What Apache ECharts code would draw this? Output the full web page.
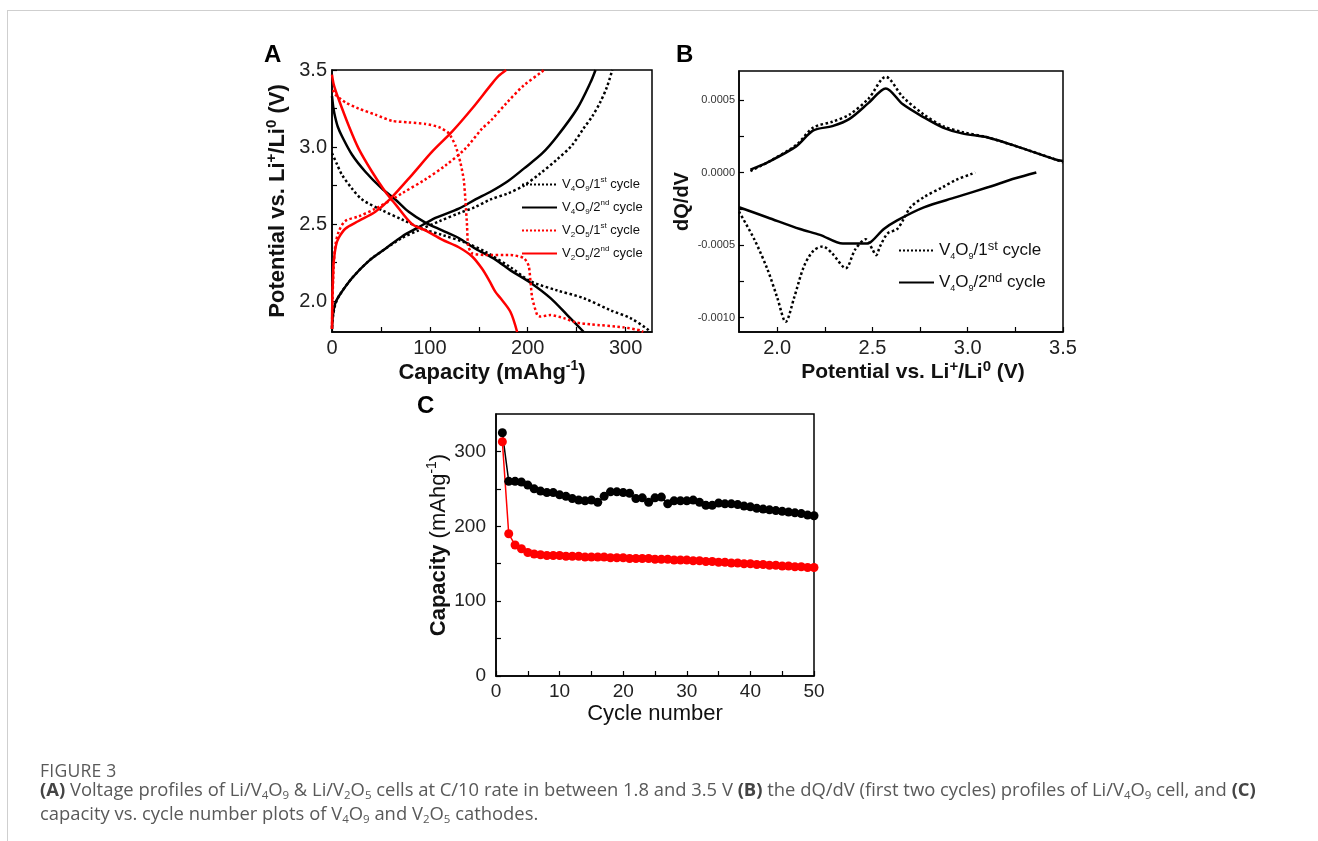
<!DOCTYPE html>
<html><head><meta charset="utf-8">
<script src="https://cdn.jsdelivr.net/npm/echarts@6/dist/echarts.min.js"></script>
<style>
html,body{margin:0;padding:0;background:#fff;width:1318px;height:841px;overflow:hidden;}
#frame{position:absolute;left:7px;top:10px;right:0;bottom:0;border-left:1px solid #cfcfcf;border-top:1px solid #cfcfcf;}
#chart{position:absolute;left:0;top:0;width:1318px;height:841px;}
.cap{position:absolute;left:40px;font-family:'Open Sans';color:#595959;font-size:18.4px;white-space:nowrap;}
#figt{top:759px;line-height:22px;font-size:17.6px;letter-spacing:0.2px;}
#capt{top:777px;line-height:23.5px;}
.cap sub{font-size:11.5px;vertical-align:-3px;line-height:0;}
.cap b{font-weight:700;color:#444;}
</style></head>
<body>
<div id="frame"></div>
<div id="chart"></div>
<div class="cap" id="figt">FIGURE 3</div>
<div class="cap" id="capt"><b>(A)</b> Voltage profiles of Li/V<sub>4</sub>O<sub>9</sub> &amp; Li/V<sub>2</sub>O<sub>5</sub> cells at C/10 rate in between 1.8 and 3.5 V <b>(B)</b> the dQ/dV (first two cycles) profiles of Li/V<sub>4</sub>O<sub>9</sub> cell, and <b>(C)</b><br>capacity vs. cycle number plots of V<sub>4</sub>O<sub>9</sub> and V<sub>2</sub>O<sub>5</sub> cathodes.</div>
<script>
// ---------- Panel A: voltage profiles [capacity mAh/g, potential V] ----------
const aV4O9_1st_dis = [[0,2.96],[5,2.89],[10.2,2.82],[20.5,2.73],[30.7,2.66],[51.1,2.59],[71.6,2.53],[92,2.47],[112.5,2.43],[136.3,2.38],[156.8,2.32],[182.4,2.22],[202.8,2.13],[230,2.07],[257,2.02],[285,1.94],[305,1.89],[322,1.82],[325,1.80]];
const aV4O9_1st_chg = [[0,1.83],[1,1.9],[3,1.97],[6.8,2.03],[20.5,2.15],[37.4,2.26],[54.5,2.34],[71.6,2.41],[88.6,2.46],[110,2.52],[129.5,2.57],[146,2.61],[162,2.66],[180,2.70],[196,2.75],[213,2.83],[230,2.92],[245,3.01],[257,3.12],[266,3.20],[274,3.29],[281,3.39],[286.4,3.50]];
const aV4O9_2nd_dis = [[0,3.33],[1.5,3.25],[3.4,3.19],[6,3.13],[10.2,3.07],[20.5,2.95],[34.1,2.84],[51.1,2.73],[64.7,2.66],[78.4,2.58],[95.4,2.51],[112.5,2.46],[129.5,2.41],[146.6,2.34],[167,2.27],[182.4,2.20],[202.8,2.12],[223.3,2.02],[240.4,1.91],[257.3,1.80]];
const aV4O9_2nd_chg = [[0,1.82],[0.8,1.9],[3,1.98],[6.8,2.03],[20.5,2.15],[37.4,2.26],[54.5,2.34],[71.6,2.42],[88.6,2.48],[105.7,2.54],[129.5,2.60],[146.6,2.66],[162,2.71],[180,2.78],[196,2.86],[215,2.96],[230.1,3.07],[250.6,3.25],[264.2,3.42],[269.3,3.50]];
const aV2O5_1st_dis = [[1,3.37],[3.4,3.34],[13.6,3.29],[27.2,3.25],[44.3,3.21],[61.4,3.17],[78.4,3.16],[95.4,3.15],[109,3.13],[119.3,3.09],[126.1,3.01],[131.2,2.90],[134.6,2.79],[136.3,2.66],[138,2.49],[139.1,2.36],[143.2,2.31],[156.8,2.30],[182.4,2.30],[196,2.28],[201,2.23],[202.8,2.13],[204.6,2.02],[209.7,1.91],[213,1.90],[223.3,1.91],[236.9,1.89],[250.6,1.86],[264,1.85],[298.3,1.83],[315.3,1.81],[318,1.80]];
const aV2O5_1st_chg = [[0,1.82],[0.5,2.0],[1.2,2.15],[1.7,2.23],[3.4,2.36],[6.8,2.45],[13.6,2.52],[27.2,2.55],[44.3,2.60],[61.4,2.66],[71.6,2.70],[95.4,2.79],[115.9,2.88],[136.3,2.99],[153.4,3.12],[162,3.17],[179,3.29],[196,3.40],[214.8,3.49],[216,3.50]];
const aV2O5_2nd_dis = [[0,3.47],[2,3.40],[6.8,3.31],[17,3.14],[27.2,2.99],[40.9,2.84],[54.5,2.71],[64.7,2.63],[81.8,2.50],[95.4,2.46],[112.5,2.40],[129.5,2.35],[143.2,2.29],[153.4,2.21],[161,2.13],[167,2.06],[172.1,2.02],[182.4,1.93],[189.2,1.80]];
const aV2O5_2nd_chg = [[0,1.82],[0.3,2.0],[1,2.15],[1.7,2.25],[4,2.36],[6.8,2.41],[13.6,2.47],[27.2,2.52],[44.3,2.58],[59,2.66],[81.8,2.82],[102.3,2.97],[122.7,3.10],[143.2,3.25],[162,3.40],[170,3.46],[178,3.50]];
const aXLabels = [0,100,200,300];
const aXTicks = [0,50,100,150,200,250,300];
const aYLabels = [2.0,2.5,3.0,3.5];
const aYTicks = [2.0,2.25,2.5,2.75,3.0,3.25,3.5];

// ---------- Panel B: dQ/dV [potential V, dQ/dV] ----------
const bCyc1_chg = [[1.86,0.00001],[1.95,0.00007],[2.10,0.00019],[2.19,0.00031],[2.29,0.00035],[2.38,0.00040],[2.48,0.00051],[2.57,0.00066],[2.66,0.00052],[2.77,0.00040],[2.87,0.00032],[2.97,0.00028],[3.11,0.00024],[3.28,0.00017],[3.46,0.00009],[3.5,0.00007]];
const bCyc2_chg = [[1.86,0.00002],[1.95,0.00007],[2.10,0.00018],[2.19,0.00029],[2.29,0.00032],[2.38,0.00037],[2.48,0.00048],[2.57,0.00058],[2.66,0.00047],[2.77,0.00038],[2.87,0.00031],[2.97,0.00027],[3.11,0.00024],[3.28,0.00017],[3.46,0.00009],[3.5,0.00008]];
const bCyc1_dis = [[1.8,-0.00027],[1.88,-0.00046],[1.95,-0.00067],[2.0,-0.00086],[2.045,-0.00103],[2.09,-0.00086],[2.14,-0.00065],[2.19,-0.00054],[2.24,-0.00051],[2.29,-0.00056],[2.36,-0.00066],[2.41,-0.00053],[2.465,-0.00046],[2.50,-0.00053],[2.52,-0.00057],[2.54,-0.00051],[2.58,-0.00042],[2.63,-0.00039],[2.66,-0.00033],[2.70,-0.00024],[2.77,-0.00017],[2.87,-0.00010],[2.94,-0.00005],[3.02,-0.00001],[3.04,0]];
const bCyc2_dis = [[1.8,-0.00024],[1.95,-0.00031],[2.12,-0.00039],[2.225,-0.00043],[2.345,-0.00049],[2.474,-0.00049],[2.50,-0.00047],[2.56,-0.00039],[2.63,-0.00033],[2.77,-0.00024],[2.94,-0.00017],[3.11,-0.00010],[3.25,-0.00004],[3.36,0]];
const bXLabels = [2.0,2.5,3.0,3.5];
const bXTicks = [2.0,2.25,2.5,2.75,3.0,3.25,3.5];
const bYLabels = [-0.001,-0.0005,0,0.0005];
const bYTicks = [-0.001,-0.00075,-0.0005,-0.00025,0,0.00025,0.0005];

// ---------- Panel C: capacity vs cycle ----------
const cCycles = [1,2,3,4,5,6,7,8,9,10,11,12,13,14,15,16,17,18,19,20,21,22,23,24,25,26,27,28,29,30,31,32,33,34,35,36,37,38,39,40,41,42,43,44,45,46,47,48,49,50];
const cV4O9 = [325,260,260,259,255,250,247,245,245,242,240,237,235,234,235,232,240,246,246,245,244,237,238,232,238,239,230,234,234,234,235,232,228,228,231,230,230,229,227,226,224,223,222,221,220,219,218,217,215,214];
const cV2O5 = [313,190,175,170,165,163,162,161,161,161,160,160,160,159,159,159,159,158,158,158,157,157,157,157,156,156,156,155,155,155,154,154,153,153,152,152,151,151,150,150,149,149,148,148,147,147,146,146,145,145];
const cXLabels = [0,10,20,30,40,50];
const cXTicks = [0,5,10,15,20,25,30,35,40,45,50];
const cYLabels = [0,100,200,300];
const cYTicks = [0,50,100,150,200,250,300];

const F = 'Liberation Sans';
const INK = '#111';
const RED = '#ff0000';

const chart = echarts.init(document.getElementById('chart'), null, {renderer:'canvas'});

function richTitle(size, supSize){
  return {
    b:{fontFamily:F,fontWeight:'bold',fontSize:size,color:INK,lineHeight:size+6},
    n:{fontFamily:F,fontWeight:'normal',fontSize:size,color:INK,lineHeight:size+6},
    sb:{fontFamily:F,fontWeight:'bold',fontSize:supSize,color:INK,lineHeight:supSize,verticalAlign:'top'},
    sn:{fontFamily:F,fontWeight:'normal',fontSize:supSize,color:INK,lineHeight:supSize,verticalAlign:'top'}
  };
}
function legendRich(size, subSize, supSize){
  return {
    m:{fontFamily:F,fontSize:size,color:INK,lineHeight:size+4},
    s:{fontFamily:F,fontSize:subSize,color:INK,lineHeight:subSize,verticalAlign:'bottom'},
    p:{fontFamily:F,fontSize:supSize,color:INK,lineHeight:supSize,verticalAlign:'top'}
  };
}
function valAxis(o){
  const a = {
    type:'value', gridIndex:o.grid, min:o.min, max:o.max,
    axisLine:{show:true,onZero:false,lineStyle:{color:'#000',width:1.5}},
    axisTick:{show:true,inside:true,length:5,customValues:o.ticks,lineStyle:{color:'#000',width:1.2}},
    axisLabel:{customValues:o.labels,fontFamily:F,fontSize:o.fs,color:o.lc||'#222',margin:o.margin,formatter:o.fmt},
    splitLine:{show:false},
    name:o.name, nameLocation:'middle', nameGap:o.gap,
    nameTextStyle:{rich:o.rich,padding:o.pad||0}
  };
  if (o.rot) a.nameRotate = 90;
  return a;
}

const option = {
  animation:false,
  backgroundColor:'transparent',
  grid:[
    {left:332,top:70,width:320,height:262,show:true,borderColor:'#000',borderWidth:1.5,backgroundColor:'transparent'},
    {left:739,top:71,width:324,height:261,show:true,borderColor:'#000',borderWidth:1.5,backgroundColor:'transparent'},
    {left:496,top:414,width:318,height:262,show:true,borderColor:'#000',borderWidth:1.5,backgroundColor:'transparent'}
  ],
  xAxis:[
    valAxis({grid:0,min:0,max:327,ticks:aXTicks,labels:aXLabels,fs:20,margin:6,fmt:v=>String(v),
      name:'{b|Capacity (mAhg}{sb|-1}{b|)}',gap:27,rich:richTitle(22,14)}),
    valAxis({grid:1,min:1.8,max:3.5,ticks:bXTicks,labels:bXLabels,fs:20,margin:6,fmt:v=>v.toFixed(1),
      name:'{b|Potential vs. Li}{sb|+}{b|/Li}{sb|0}{b| (V)}',gap:27,pad:[0,0,0,24],rich:richTitle(21,15)}),
    valAxis({grid:2,min:0,max:50,ticks:cXTicks,labels:cXLabels,fs:19,margin:6,fmt:v=>String(v),
      name:'{n|Cycle number}',gap:24,rich:richTitle(22,14)})
  ],
  yAxis:[
    valAxis({grid:0,min:1.8,max:3.5,ticks:aYTicks,labels:aYLabels,fs:20,margin:5,fmt:v=>v.toFixed(1),
      name:'{b|Potential vs. Li}{sb|+}{b|/Li}{sb|0}{b| (V)}',gap:40,rot:true,rich:richTitle(22,15)}),
    valAxis({grid:1,min:-0.0011,max:0.0007,ticks:bYTicks,labels:bYLabels,fs:11,lc:'#333',margin:4,fmt:v=>v.toFixed(4),
      name:'{b|dQ/dV}',gap:44,rot:true,rich:richTitle(20,12)}),
    valAxis({grid:2,min:0,max:350,ticks:cYTicks,labels:cYLabels,fs:19,margin:10,fmt:v=>String(v),
      name:'{b|Capacity }{n|(mAhg}{sn|-1}{n|)}',gap:42,rot:true,rich:richTitle(22,14)})
  ],
  legend:[
    {data:['A1','A2','A3','A4'],orient:'vertical',left:521,top:176,itemWidth:35,itemHeight:10,itemGap:6,padding:0,selectedMode:false,
      itemStyle:{opacity:0,borderWidth:0},
      textStyle:{rich:legendRich(13,8,8)},
      formatter:n=>({A1:'{m|V}{s|4}{m|O}{s|9}{m|/1}{p|st}{m| cycle}',A2:'{m|V}{s|4}{m|O}{s|9}{m|/2}{p|nd}{m| cycle}',A3:'{m|V}{s|2}{m|O}{s|5}{m|/1}{p|st}{m| cycle}',A4:'{m|V}{s|2}{m|O}{s|5}{m|/2}{p|nd}{m| cycle}'})[n]},
    {data:['B1','B2'],orient:'vertical',left:898,top:240,itemWidth:35,itemHeight:10,itemGap:11,padding:0,selectedMode:false,
      itemStyle:{opacity:0,borderWidth:0},
      textStyle:{rich:legendRich(17,9,13)},
      formatter:n=>({B1:'{m|V}{s|4}{m|O}{s|9}{m|/1}{p|st}{m| cycle}',B2:'{m|V}{s|4}{m|O}{s|9}{m|/2}{p|nd}{m| cycle}'})[n]}
  ],
  graphic:[
    {type:'text',left:264,top:43,style:{text:'A',font:'bold 24px "Liberation Sans"',fill:'#000'}},
    {type:'text',left:676,top:43,style:{text:'B',font:'bold 24px "Liberation Sans"',fill:'#000'}},
    {type:'text',left:417,top:394,style:{text:'C',font:'bold 24px "Liberation Sans"',fill:'#000'}}
  ],
  series:[
    {name:'A1',type:'line',xAxisIndex:0,yAxisIndex:0,data:aV4O9_1st_dis,symbol:'none',smooth:0.3,lineStyle:{color:'#000',width:2.5,type:'dotted'},itemStyle:{color:'#000'}},
    {name:'A1',type:'line',xAxisIndex:0,yAxisIndex:0,data:aV4O9_1st_chg,symbol:'none',smooth:0.3,lineStyle:{color:'#000',width:2.5,type:'dotted'},itemStyle:{color:'#000'}},
    {name:'A2',type:'line',xAxisIndex:0,yAxisIndex:0,data:aV4O9_2nd_dis,symbol:'none',smooth:0.3,lineStyle:{color:'#000',width:2.5},itemStyle:{color:'#000'}},
    {name:'A2',type:'line',xAxisIndex:0,yAxisIndex:0,data:aV4O9_2nd_chg,symbol:'none',smooth:0.3,lineStyle:{color:'#000',width:2.5},itemStyle:{color:'#000'}},
    {name:'A3',type:'line',xAxisIndex:0,yAxisIndex:0,data:aV2O5_1st_dis,symbol:'none',smooth:0.2,lineStyle:{color:RED,width:2.5,type:'dotted'},itemStyle:{color:RED}},
    {name:'A3',type:'line',xAxisIndex:0,yAxisIndex:0,data:aV2O5_1st_chg,symbol:'none',smooth:0.3,lineStyle:{color:RED,width:2.5,type:'dotted'},itemStyle:{color:RED}},
    {name:'A4',type:'line',xAxisIndex:0,yAxisIndex:0,data:aV2O5_2nd_dis,symbol:'none',smooth:0.3,lineStyle:{color:RED,width:2.5},itemStyle:{color:RED}},
    {name:'A4',type:'line',xAxisIndex:0,yAxisIndex:0,data:aV2O5_2nd_chg,symbol:'none',smooth:0.3,lineStyle:{color:RED,width:2.5},itemStyle:{color:RED}},

    {name:'B1',type:'line',xAxisIndex:1,yAxisIndex:1,data:bCyc1_chg,symbol:'none',smooth:0.3,lineStyle:{color:'#000',width:2.5,type:'dotted'},itemStyle:{color:'#000'}},
    {name:'B1',type:'line',xAxisIndex:1,yAxisIndex:1,data:bCyc1_dis,symbol:'none',smooth:0.3,lineStyle:{color:'#000',width:2.5,type:'dotted'},itemStyle:{color:'#000'}},
    {name:'B2',type:'line',xAxisIndex:1,yAxisIndex:1,data:bCyc2_chg,symbol:'none',smooth:0.3,lineStyle:{color:'#000',width:2.5},itemStyle:{color:'#000'}},
    {name:'B2',type:'line',xAxisIndex:1,yAxisIndex:1,data:bCyc2_dis,symbol:'none',smooth:0.3,lineStyle:{color:'#000',width:2.5},itemStyle:{color:'#000'}},

    {name:'C1',type:'line',xAxisIndex:2,yAxisIndex:2,data:cCycles.map((c,i)=>[c,cV4O9[i]]),symbol:'circle',symbolSize:9,lineStyle:{color:'#000',width:1.5},itemStyle:{color:'#000'}},
    {name:'C2',type:'line',xAxisIndex:2,yAxisIndex:2,data:cCycles.map((c,i)=>[c,cV2O5[i]]),symbol:'circle',symbolSize:9,lineStyle:{color:RED,width:1.5},itemStyle:{color:RED}}
  ]
};
chart.setOption(option);
</script>
</body></html>
